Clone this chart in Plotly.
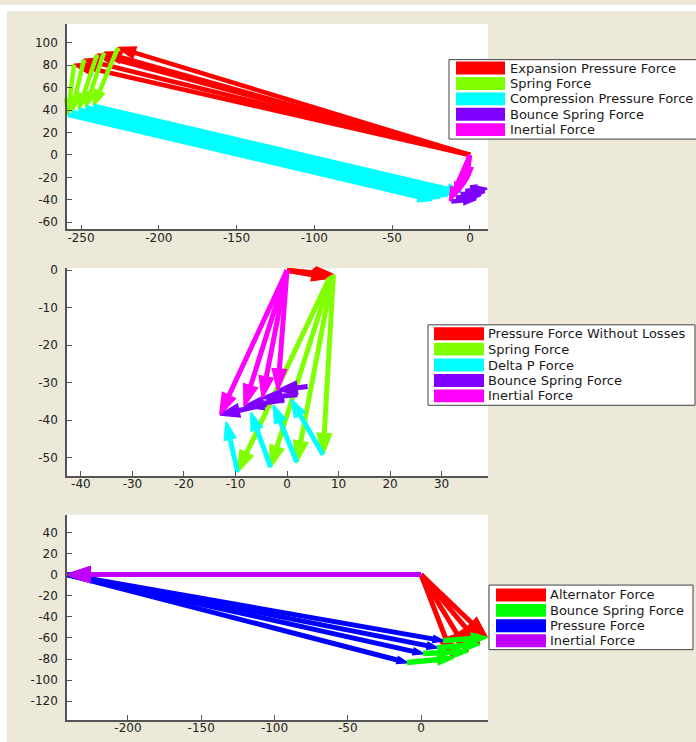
import plotly.graph_objects as go

FIG_W, FIG_H = 696, 742
BEIGE = "#ECE9D8"
FONT = "DejaVu Sans"

# ---------------- Panel 1: expansion / compression force phasors ----------------
p1_labels = ["Expansion Pressure Force", "Spring Force", "Compression Pressure Force",
             "Bounce Spring Force", "Inertial Force"]
p1_colors = ["#FF0000", "#80FF00", "#00FFFF", "#7F00FF", "#FF00FF"]
p1_xticks = [-250, -200, -150, -100, -50, 0]
p1_yticks = [-60, -40, -20, 0, 20, 40, 60, 80, 100]

# quiver data: tail x, tail y, x component, y component (one entry per time step)
p1_exp_x0 = [0, 0, 0, 0, 0]
p1_exp_y0 = [0, 0, 0, 0, 0]
p1_exp_u = [-254.5, -248.1, -239.7, -235.2, -226.2]
p1_exp_v = [80.5, 85.0, 89.4, 91.2, 95.6]

p1_spr_x0 = [-254.5, -248.1, -239.7, -235.2, -226.2]
p1_spr_y0 = [80.5, 85.0, 89.4, 91.2, 95.6]
p1_spr_u = [-4.0, -7.9, -11.8, -11.8, -15.8]
p1_spr_v = [-44.8, -46.6, -48.9, -48.7, -51.7]

p1_cmp_x0 = [-258.5, -256.0, -251.5, -247.0, -242.0]
p1_cmp_y0 = [35.7, 38.4, 40.5, 42.5, 43.9]
p1_cmp_u = [234.0, 236.5, 237.0, 237.0, 236.5]
p1_cmp_v = [-76.0, -76.8, -77.1, -77.0, -76.9]

p1_bnc_x0 = [-12.0, -9.0, -6.0, -3.0, 0.0]
p1_bnc_y0 = [-41.5, -38.0, -35.0, -32.0, -29.0]
p1_bnc_u = [16.0, 16.0, 15.5, 14.0, 12.5]
p1_bnc_v = [2.0, 2.0, 2.0, 2.0, 2.5]

p1_ine_x0 = [0, 0, 0, 0, 0]
p1_ine_y0 = [0, 0, 0, 0, 0]
p1_ine_u = [-13.0, -10.0, -7.0, -4.5, -2.0]
p1_ine_v = [-41.0, -37.0, -33.0, -28.0, -23.0]

# ---------------- Panel 2: lossless pressure force phasors ----------------
p2_labels = ["Pressure Force Without Losses", "Spring Force", "Delta P Force",
             "Bounce Spring Force", "Inertial Force"]
p2_colors = ["#FF0000", "#80FF00", "#00FFFF", "#7F00FF", "#FF00FF"]
p2_xticks = [-40, -30, -20, -10, 0, 10, 20, 30]
p2_yticks = [-50, -40, -30, -20, -10, 0]

p2_prs_x0 = [0, 0, 0, 0]
p2_prs_y0 = [0, 0, 0, 0]
p2_prs_u = [8.2, 8.5, 8.8, 9.0]
p2_prs_v = [-2.1, -1.8, -1.5, -1.2]

p2_spr_x0 = [8.2, 8.5, 8.8, 9.0]
p2_spr_y0 = [-2.1, -1.8, -1.5, -1.2]
p2_spr_u = [-17.8, -11.7, -6.9, -2.0]
p2_spr_v = [-51.7, -50.7, -49.7, -48.0]

p2_dp_x0 = [-9.6, -3.2, 1.9, 7.0]
p2_dp_y0 = [-53.8, -52.5, -51.2, -49.2]
p2_dp_u = [-2.2, -3.8, -4.5, -6.2]
p2_dp_v = [13.3, 14.5, 15.2, 14.7]

p2_bnc_x0 = [-4.0, -0.5, 2.0, 4.0]
p2_bnc_y0 = [-35.8, -34.6, -33.2, -31.0]
p2_bnc_u = [-9.0, -7.8, -6.8, -5.8]
p2_bnc_v = [-2.7, -1.6, -0.8, -1.0]

p2_ine_x0 = [0, 0, 0, 0]
p2_ine_y0 = [0, 0, 0, 0]
p2_ine_u = [-13.0, -8.3, -4.8, -1.8]
p2_ine_v = [-38.5, -36.2, -34.0, -32.0]

# ---------------- Panel 3: alternator force phasors ----------------
p3_labels = ["Alternator Force", "Bounce Spring Force", "Pressure Force", "Inertial Force"]
p3_colors = ["#FF0000", "#00FF00", "#0000FF", "#BF00FF"]
p3_xticks = [-200, -150, -100, -50, 0]
p3_yticks = [-120, -100, -80, -60, -40, -20, 0, 20, 40]

p3_alt_x0 = [0, 0, 0, 0]
p3_alt_y0 = [0, 0, 0, 0]
p3_alt_u = [45.0, 40.0, 32.0, 22.0]
p3_alt_v = [-59.5, -66.0, -73.0, -79.0]

p3_bnc_x0 = [15.0, 10.9, 1.4, -9.6]
p3_bnc_y0 = [-62.6, -69.2, -74.8, -83.3]
p3_bnc_u = [30.0, 29.1, 30.6, 31.6]
p3_bnc_v = [3.1, 3.2, 1.8, 4.3]

p3_prs_x0 = [-241.5, -241.5, -241.5, -241.5]
p3_prs_y0 = [0, 0, 0, 0]
p3_prs_u = [256.5, 252.4, 242.9, 231.9]
p3_prs_v = [-62.6, -69.2, -74.8, -83.3]

p3_ine_x0 = [0, 0, 0, 0]
p3_ine_y0 = [0, 0, 0, 0]
p3_ine_u = [-241.5, -241.5, -241.5, -241.5]
p3_ine_v = [0, 0, 0, 0]


def add_quiver(fig, x0, y0, u, v, color, head, lw, xa, ya):
    """Draw each vector as a thick line ending in an arrow marker."""
    for xs, ys, du, dv in zip(x0, y0, u, v):
        fig.add_trace(go.Scatter(
            x=[xs, xs + du], y=[ys, ys + dv],
            mode="lines+markers",
            line=dict(color=color, width=lw),
            marker=dict(symbol=["circle", "arrow"], size=[0, head],
                        angleref="previous", color=color, opacity=1,
                        line=dict(width=[0, 2], color=color)),
            xaxis=xa, yaxis=ya, showlegend=False, hoverinfo="skip",
            cliponaxis=False,
        ))


fig = go.Figure()

# panel 1
add_quiver(fig, p1_exp_x0, p1_exp_y0, p1_exp_u, p1_exp_v, p1_colors[0], 18, 4.5, "x", "y")
add_quiver(fig, p1_spr_x0, p1_spr_y0, p1_spr_u, p1_spr_v, p1_colors[1], 16, 4.5, "x", "y")
add_quiver(fig, p1_cmp_x0, p1_cmp_y0, p1_cmp_u, p1_cmp_v, p1_colors[2], 14, 4.5, "x", "y")
add_quiver(fig, p1_bnc_x0, p1_bnc_y0, p1_bnc_u, p1_bnc_v, p1_colors[3], 13, 4.5, "x", "y")
add_quiver(fig, p1_ine_x0, p1_ine_y0, p1_ine_u, p1_ine_v, p1_colors[4], 14, 4.5, "x", "y")

# panel 2
add_quiver(fig, p2_prs_x0, p2_prs_y0, p2_prs_u, p2_prs_v, p2_colors[0], 18, 5, "x2", "y2")
add_quiver(fig, p2_spr_x0, p2_spr_y0, p2_spr_u, p2_spr_v, p2_colors[1], 22, 5, "x2", "y2")
add_quiver(fig, p2_dp_x0, p2_dp_y0, p2_dp_u, p2_dp_v, p2_colors[2], 18, 5, "x2", "y2")
add_quiver(fig, p2_bnc_x0, p2_bnc_y0, p2_bnc_u, p2_bnc_v, p2_colors[3], 20, 5, "x2", "y2")
add_quiver(fig, p2_ine_x0, p2_ine_y0, p2_ine_u, p2_ine_v, p2_colors[4], 22, 5, "x2", "y2")

# panel 3
add_quiver(fig, p3_alt_x0, p3_alt_y0, p3_alt_u, p3_alt_v, p3_colors[0], 22, 5, "x3", "y3")
add_quiver(fig, p3_prs_x0, p3_prs_y0, p3_prs_u, p3_prs_v, p3_colors[2], 10, 5, "x3", "y3")
add_quiver(fig, p3_bnc_x0, p3_bnc_y0, p3_bnc_u, p3_bnc_v, p3_colors[1], 16, 5.5, "x3", "y3")
add_quiver(fig, p3_ine_x0, p3_ine_y0, p3_ine_u, p3_ine_v, p3_colors[3], 24, 4.5, "x3", "y3")


def px(x):
    return x / FIG_W


def py(y):
    return 1 - y / FIG_H


def ticks(vals):
    # plain hyphen-minus labels
    return [str(v) for v in vals]


axis_style = dict(
    showline=True, linecolor="#555555", linewidth=1.5, mirror=False,
    ticks="inside", ticklen=5, tickwidth=1, tickcolor="#555555",
    showgrid=False, zeroline=False, fixedrange=True,
    tickfont=dict(family=FONT, size=12, color="#222222"),
)
x_dom = [px(67), px(488)]

fig.update_layout(
    width=FIG_W, height=FIG_H,
    margin=dict(l=0, r=0, t=0, b=0),
    paper_bgcolor=BEIGE, plot_bgcolor="white",
    showlegend=False,
    xaxis=dict(axis_style, domain=x_dom, range=[-259.0, 11.6], anchor="y",
               tickvals=p1_xticks, ticktext=ticks(p1_xticks), ticklabelstandoff=-4),
    yaxis=dict(axis_style, domain=[py(226), py(19)], range=[-66.4, 116.8], anchor="x",
               tickvals=p1_yticks, ticktext=ticks(p1_yticks), ticklabelstandoff=5),
    xaxis2=dict(axis_style, domain=x_dom, range=[-42.7, 39.0], anchor="y2",
                tickvals=p2_xticks, ticktext=ticks(p2_xticks), ticklabelstandoff=-4),
    yaxis2=dict(axis_style, domain=[py(474), py(265)], range=[-54.8, 0.53], anchor="x2",
                tickvals=p2_yticks, ticktext=ticks(p2_yticks), ticklabelstandoff=5),
    xaxis3=dict(axis_style, domain=x_dom, range=[-241.6, 45.7], anchor="y3",
                tickvals=p3_xticks, ticktext=ticks(p3_xticks), ticklabelstandoff=-4),
    yaxis3=dict(axis_style, domain=[py(720), py(513)], range=[-137.9, 56.9], anchor="x3",
                tickvals=p3_yticks, ticktext=ticks(p3_yticks), ticklabelstandoff=5),
)

shapes = [
    # white strips along the top and left edge of the window
    dict(type="rect", xref="paper", yref="paper", x0=0, x1=px(7), y0=0, y1=1,
         fillcolor="white", line=dict(width=0), layer="below"),
    dict(type="rect", xref="paper", yref="paper", x0=0, x1=1, y0=py(6), y1=1,
         fillcolor="white", line=dict(width=0), layer="below"),
]
annotations = []


def add_legend(labels, colors, box, patch_x, rows, text_x):
    bx0, by0, bx1, by1 = box
    shapes.append(dict(type="rect", xref="paper", yref="paper",
                       x0=px(bx0), x1=px(bx1), y0=py(by1), y1=py(by0),
                       fillcolor="white", line=dict(color="#404040", width=1),
                       layer="above"))
    for label, color, yc in zip(labels, colors, rows):
        shapes.append(dict(type="rect", xref="paper", yref="paper",
                           x0=px(patch_x[0]), x1=px(patch_x[1]),
                           y0=py(yc + 6.5), y1=py(yc - 6.5),
                           fillcolor=color, line=dict(width=0), layer="above"))
        annotations.append(dict(text=label, xref="paper", yref="paper",
                                x=px(text_x), y=py(yc), xanchor="left", yanchor="middle",
                                showarrow=False,
                                font=dict(family=FONT, size=13, color="#1a1a1a")))


add_legend(p1_labels, p1_colors, (449, 55, 702, 135), (456, 505),
           [63.5, 79, 94.5, 110, 125.5], 508)
add_legend(p2_labels, p2_colors, (428, 322, 695, 403), (434, 484),
           [331, 346.5, 362.5, 378, 393.5], 486)
add_legend(p3_labels, p3_colors, (489, 584, 693, 649), (496, 546),
           [594, 609.5, 625, 640], 548)

fig.update_layout(shapes=shapes, annotations=annotations)

fig.write_html("out.html")
